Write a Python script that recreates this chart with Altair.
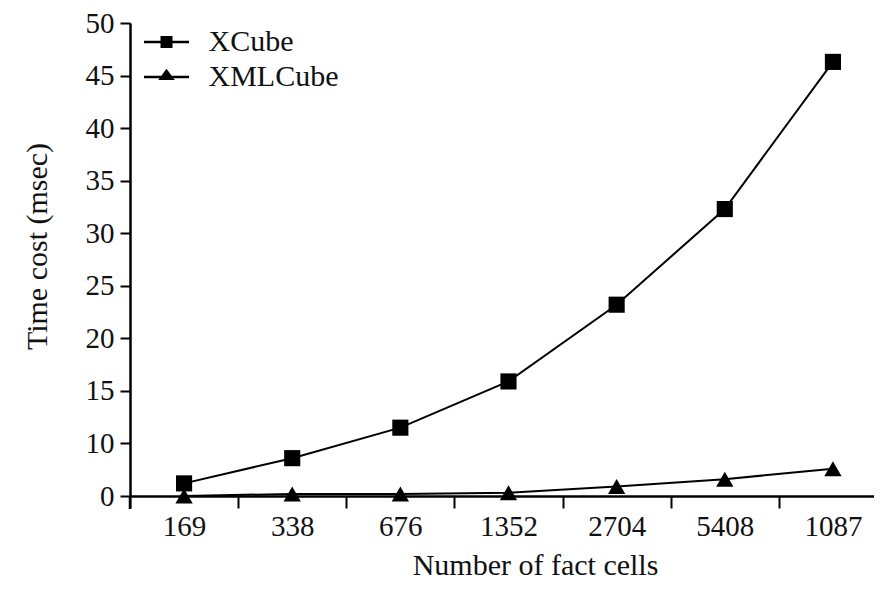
import altair as alt
import pandas as pd

cells = ["169", "338", "676", "1352", "2704", "5408", "1087"]
xcube = [6.2, 8.6, 11.5, 15.9, 23.2, 32.3, 46.3]
xmlcube = [5.0, 5.2, 5.2, 5.3, 5.9, 6.6, 7.6]
series_names = ["XCube", "XMLCube"]
y_ticks = [5, 10, 15, 20, 25, 30, 35, 40, 45, 50]

rows = []
for c, a, b in zip(cells, xcube, xmlcube):
    rows.append({"cells": c, "series": "XCube", "time": a})
    rows.append({"cells": c, "series": "XMLCube", "time": b})
df = pd.DataFrame(rows)

FONT = "Liberation Serif"

x_enc = alt.X(
    "cells:N",
    sort=cells,
    scale=alt.Scale(type="band", domain=cells, range=[0, 757], paddingInner=0, paddingOuter=0),
    axis=alt.Axis(
        title="Number of fact cells",
        tickBand="extent",
        labelAngle=0,
        tickSize=12,
        tickWidth=2,
        labelPadding=4,
        domainWidth=2.5,
        titleX=405,
        titleY=78,
        titleBaseline="alphabetic",
        titleAnchor="start",
        titleAlign="center",
    ),
)
y_enc = alt.Y(
    "time:Q",
    scale=alt.Scale(domain=[5, 50], nice=False, zero=False),
    axis=alt.Axis(
        title="Time cost (msec)",
        values=y_ticks,
        labelExpr="datum.value == 5 ? '0' : datum.value",
        tickSize=10,
        tickWidth=2,
        labelPadding=6,
        domainWidth=2.5,
        titleX=-93,
        titleY=223,
        titleAngle=-90,
        titleBaseline="middle",
        titleAlign="center",
        titleAnchor="start",
    ),
)

base = alt.Chart(df)

lines = base.mark_line(color="black", strokeWidth=2).encode(
    x=x_enc, y=y_enc, detail="series:N"
)

points = base.mark_point(filled=True, color="black", opacity=1).encode(
    x=x_enc,
    y=y_enc,
    shape=alt.Shape(
        "series:N",
        scale=alt.Scale(domain=series_names, range=["square", "triangle-up"]),
        legend=None,
    ),
    size=alt.Size(
        "series:N",
        scale=alt.Scale(domain=series_names, range=[260, 300]),
        legend=None,
    ),
)

legend_paths = [
    "M-1.5,-0.085H1.5V0.085H-1.5ZM-0.4,-0.4H0.4V0.4H-0.4Z",
    "M-1.5,-0.085H1.5V0.085H-1.5ZM-0.55,0.2L0,-0.55L0.55,0.2Z",
]

legend_layer = base.mark_point(filled=True, color="black", opacity=0).encode(
    x=x_enc,
    y=y_enc,
    shape=alt.Shape(
        "series:N",
        scale=alt.Scale(domain=series_names, range=legend_paths),
        legend=alt.Legend(
            title=None,
            orient="none",
            legendX=20.5,
            legendY=3,
            symbolSize=900,
            symbolOpacity=1,
            symbolFillColor="black",
            labelOffset=26,
            rowPadding=4,
            labelFont=FONT,
            labelFontSize=30,
            labelColor="#111",
            labelBaseline="middle",
        ),
    ),
)

yext = alt.Chart(pd.DataFrame({"a": [0]})).mark_rule(color="black", strokeWidth=2.5).encode(
    x=alt.value(0), y=alt.value(473), y2=alt.value(486)
)

chart = (
    alt.layer(lines, points, legend_layer, yext)
    .resolve_scale(shape="independent", size="independent")
    .resolve_legend(shape="independent")
    .properties(
        width=744,
        height=473,
        padding={"left": 122, "top": 15, "right": 0, "bottom": 84},
        autosize=alt.AutoSizeParams(type="none"),
        background="white",
    )
    .configure_view(stroke=None)
    .configure_axis(
        labelFont=FONT,
        titleFont=FONT,
        labelFontSize=29,
        titleFontSize=30,
        titleFontWeight="normal",
        labelColor="#111",
        titleColor="#111",
        domainColor="black",
        tickColor="black",
        grid=False,
    )
)

chart.save("out.html", embed_options={"renderer": "svg", "actions": False})
